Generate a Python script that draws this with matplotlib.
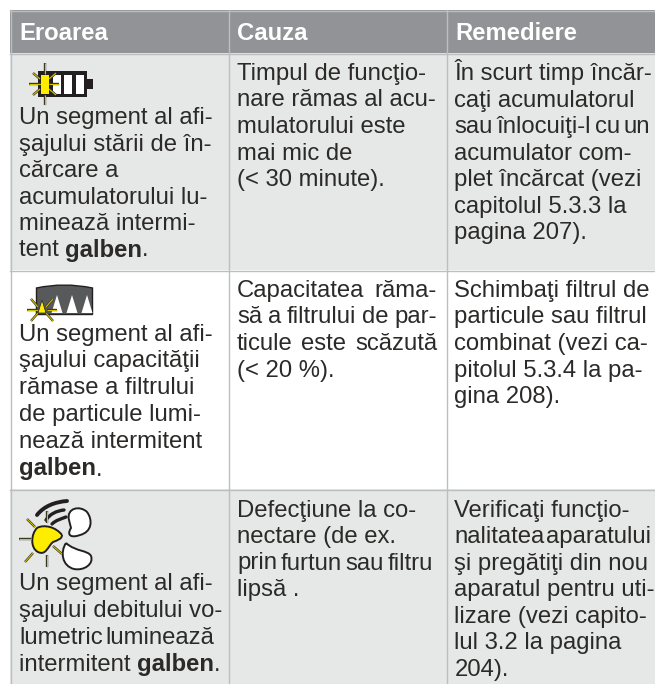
import matplotlib
matplotlib.use("Agg")
import matplotlib.pyplot as plt
from matplotlib.patches import Rectangle, Polygon, PathPatch
from matplotlib.path import Path

W, H = 655, 684
GREY_HEAD = "#929396"
GREY_ROW = "#e6e7e7"
LINE = "#bcbec0"
TEXT = "#2b2a29"
YELLOW = "#ffed00"

headers = ["Eroarea", "Cauza", "Remediere"]
col_edges = [10.5, 228.5, 446.5]
row_edges = [10.5, 53.5, 270.5, 489.5]

# each line is one text row, ** marks the bold word
col1 = [
    ["Un segment al afi-", "şajului stării de în-", "cărcare a", "acumulatorului lu-", "minează intermi-", "tent **galben**."],
    ["Un segment al afi-", "şajului capacităţii", "rămase a filtrului", "de particule lumi-", "nează intermitent", "**galben**."],
    ["Un segment al afi-", "şajului debitului vo-", "lumetric luminează", "intermitent **galben**."],
]
col2 = [
    ["Timpul de funcţio-", "nare rămas al acu-", "mulatorului este", "mai mic de", "(< 30 minute)."],
    ["Capacitatea răma-", "să a filtrului de par-", "ticule este scăzută", "(< 20 %)."],
    ["Defecţiune la co-", "nectare (de ex.", "prin furtun sau filtru", "lipsă ."],
]
col3 = [
    ["În scurt timp încăr-", "caţi acumulatorul", "sau înlocuiţi-l cu un", "acumulator com-", "plet încărcat (vezi", "capitolul 5.3.3 la", "pagina 207)."],
    ["Schimbaţi filtrul de", "particule sau filtrul", "combinat (vezi ca-", "pitolul 5.3.4 la pa-", "gina 208)."],
    ["Verificaţi funcţio-", "nalitatea aparatului", "şi pregătiţi din nou", "aparatul pentru uti-", "lizare (vezi capito-", "lul 3.2 la pagina", "204)."],
]
# first baseline and line step for each cell
col1_y = [(124, 26.5), (340.5, 27.0), (590, 26.9)]
col2_y = [(80, 26.5), (296.7, 26.7), (516.7, 26.4)]
col3_y = [(80, 26.5), (296.7, 26.7), (516.5, 26.6)]

# lines set justified in the original: right edge of the line
justify = {
    "Capacitatea răma-": 437,
    "să a filtrului de par-": 437,
    "ticule este scăzută": 437,
    "prin furtun sau filtru": 433,
    "lumetric luminează": 214,
    "sau înlocuiţi-l cu un": 650,
    "nalitatea aparatului": 651,
}

plt.rcParams["font.family"] = ["Liberation Sans", "DejaVu Sans"]
fig = plt.figure(figsize=(W / 100, H / 100), dpi=100)
ax = fig.add_axes([0, 0, 1, 1])
ax.set_xlim(0, W)
ax.set_ylim(H, 0)
ax.axis("off")

FS = 17.2
r = fig.canvas.get_renderer()
inv = ax.transData.inverted()

# backgrounds
ax.add_patch(Rectangle((10, 10), W, 43, fc=GREY_HEAD, ec="none"))
ax.add_patch(Rectangle((10, 53), W, 217, fc=GREY_ROW, ec="none"))
ax.add_patch(Rectangle((10, 489), W, H, fc=GREY_ROW, ec="none"))
for x in col_edges:
    ax.plot([x, x], [10, H], color=LINE, lw=1.0)
for y in row_edges:
    ax.plot([10, W], [y, y], color=LINE, lw=1.0)

for x, h in zip(col_edges, headers):
    ax.text(x + 8.5, 40, h, color="white", fontsize=FS, fontweight="bold", va="baseline")


def text_w(s, weight="normal"):
    t = ax.text(0, 0, s, fontsize=FS, fontweight=weight)
    bb = t.get_window_extent(r)
    t.remove()
    return bb.width


def put_line(x, y, line):
    if line in justify:
        words = line.split(" ")
        gap = (justify[line] - x - sum(text_w(w) for w in words)) / (len(words) - 1)
        for w in words:
            ax.text(x, y, w, fontsize=FS, color=TEXT, va="baseline")
            x += text_w(w) + gap
        return
    # plain text, or plain + bold + plain when the line has ** marks
    for i, p in enumerate(line.split("**")):
        if not p:
            continue
        weight = "bold" if i % 2 else "normal"
        ax.text(x, y, p, fontsize=FS, color=TEXT, va="baseline", fontweight=weight)
        x += text_w(p.replace(" ", "\u00a0"), weight)


for xpos, col, ys in [(19, col1, col1_y), (237, col2, col2_y), (454.5, col3, col3_y)]:
    for lines, (y0, lh) in zip(col, ys):
        for i, l in enumerate(lines):
            put_line(xpos, y0 + i * lh, l)


def rays(segs):
    for x0, y0, x1, y1 in segs:
        ax.plot([x0, x1], [y0, y1], color="#3a3a20", lw=1.7, solid_capstyle="butt", zorder=5)
        ax.plot([x0, x1], [y0, y1], color="#d8c800", lw=0.7, solid_capstyle="butt", zorder=6)


# battery icon
ax.add_patch(Rectangle((38, 71), 49, 26, fc="#231f20", ec="none", zorder=3))
ax.add_patch(Rectangle((87, 79), 6, 10, fc="#231f20", ec="none", zorder=3))
for x in [53, 64, 76]:
    ax.add_patch(Rectangle((x, 75), 8, 19, fc="white", ec="none", zorder=4))
ax.add_patch(Rectangle((41, 75), 8, 19, fc=YELLOW, ec="none", zorder=7))
rays([(44.5, 63, 44.5, 74), (44.5, 95, 44.5, 105), (29, 84, 41, 84), (49, 84, 59, 84),
      (33, 73, 40, 79), (56, 73, 49, 79), (33, 95, 40, 89), (56, 95, 49, 89)])

# filter icon
ax.add_patch(PathPatch(Path([(36.5, 288), (64, 282), (92.5, 288), (92.5, 314.5), (36.5, 314.5), (36.5, 288)],
                            [Path.MOVETO, Path.CURVE3, Path.CURVE3, Path.LINETO, Path.LINETO, Path.CLOSEPOLY]),
                       fc="#58595b", ec="#231f20", lw=1, zorder=3))
for x in [57, 72, 87]:
    ax.add_patch(Polygon([(x - 5.5, 313), (x, 295), (x + 5.5, 313)], fc="white", ec="none", zorder=4))
ax.add_patch(Polygon([(38, 313), (42, 300), (46, 313)], fc=YELLOW, ec="#231f20", lw=0.5, zorder=7))
rays([(27, 310, 38, 310), (47, 310, 57, 310), (31, 299, 38, 307), (53, 299, 46, 307),
      (31, 321, 38, 313), (53, 321, 46, 313)])


# fan icon
def blade(verts, fc):
    codes = [Path.MOVETO] + [Path.CURVE4] * (len(verts) - 2) + [Path.CLOSEPOLY]
    ax.add_patch(PathPatch(Path(verts, codes), fc=fc, ec="#231f20", lw=1.4, zorder=4))


blade([(62, 535), (56, 527), (44, 524), (37, 528), (31, 534), (30, 548), (38, 552),
       (46, 556), (48, 546), (53, 542), (58, 540), (62, 539), (62, 535)], YELLOW)
blade([(69, 520), (66, 508), (80, 505), (87, 512), (93, 520), (92, 532), (80, 535),
       (72, 538), (66, 536), (71, 528), (69, 520)], "white")
blade([(66, 543), (60, 552), (62, 566), (74, 569), (84, 571), (94, 564), (91, 556),
       (88, 550), (76, 552), (66, 543)], "white")
for xs, ys, w in [([37, 44, 55, 67], [515, 506, 502, 501], 2.8),
                  ([46, 50, 56, 64], [520, 514, 511, 510], 2.4),
                  ([52, 56, 61, 66], [524, 520, 519, 517], 2.4)]:
    ax.add_patch(PathPatch(Path(list(zip(xs, ys)), [Path.MOVETO, Path.CURVE4, Path.CURVE4, Path.CURVE4]),
                           fc="none", ec="#231f20", lw=w, capstyle="round", zorder=4))
rays([(47, 511, 47, 523), (19, 539, 31, 539), (27, 519, 35, 527), (25, 562, 33, 553),
      (47, 555, 47, 567), (53, 546, 62, 554)])

fig.savefig("out.png", dpi=100)
